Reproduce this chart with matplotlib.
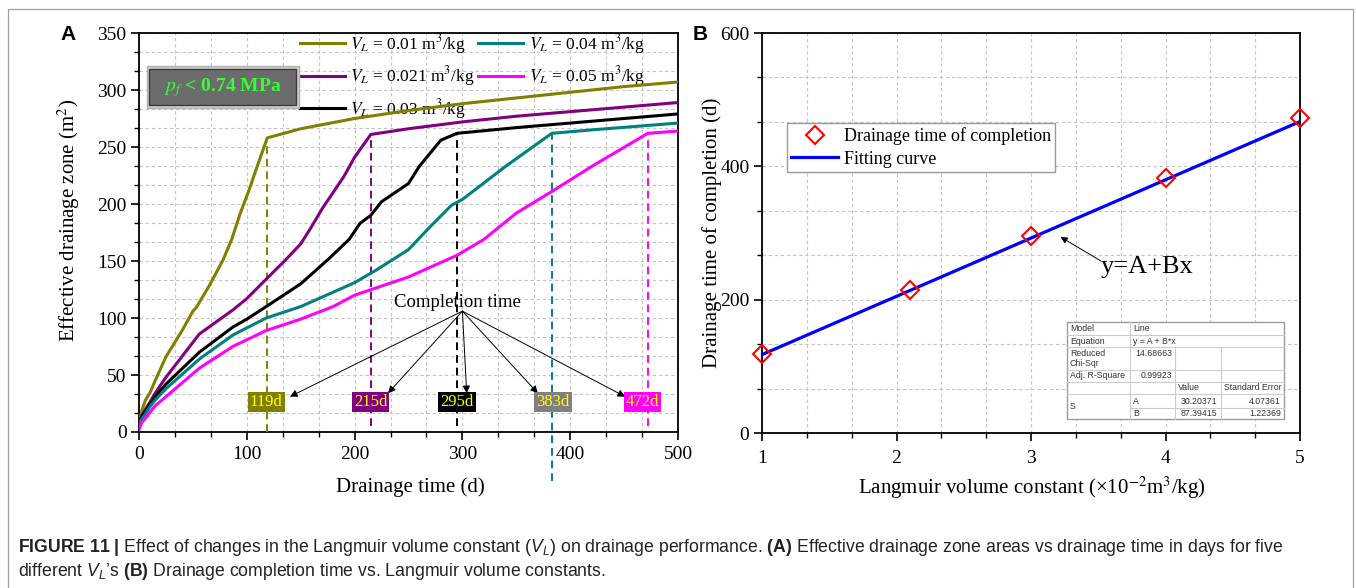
import numpy as np
import matplotlib
matplotlib.use('Agg')
import matplotlib.pyplot as plt
from matplotlib.ticker import MultipleLocator
from matplotlib.patches import Rectangle
from matplotlib.lines import Line2D
from matplotlib import font_manager as fm

# ---------------- data: panel A ----------------
x_001 = [0, 1, 3, 6, 10, 15, 25, 40, 50, 53, 65, 78, 86, 94, 102, 110, 119, 150, 200, 250, 300, 350, 400, 450, 500]
y_001 = [8, 12, 20, 28, 34, 45, 66, 89, 106, 109, 128, 151, 169, 192, 212, 234, 258, 266, 275, 282, 288, 293, 298, 303, 307]

x_0021 = [0, 1, 3, 6, 10, 15, 25, 56, 87, 100, 119, 135, 150, 160, 170, 180, 190, 200, 215, 250, 300, 350, 400, 450, 500]
y_0021 = [8, 11, 15, 20, 26, 34, 48, 86, 107, 117, 135, 150, 165, 180, 196, 210, 224, 241, 261, 266, 272, 277, 281, 285, 289]

x_003 = [0, 1, 3, 6, 10, 15, 25, 56, 87, 100, 118, 150, 175, 195, 205, 215, 225, 250, 260, 280, 295, 350, 400, 450, 500]
y_003 = [7, 10, 14, 18, 24, 31, 42, 70, 92, 99, 110, 130, 151, 169, 183, 190, 202, 218, 233, 256, 262, 267, 271, 275, 279]

x_004 = [0, 1, 3, 6, 10, 15, 25, 56, 87, 118, 150, 200, 220, 250, 270, 290, 300, 340, 383, 420, 460, 500]
y_004 = [5, 9, 12, 16, 22, 28, 38, 64, 85, 100, 110, 131, 142, 160, 180, 199, 204, 233, 262, 265, 268, 271]

x_005 = [0, 1, 3, 6, 10, 15, 25, 56, 87, 118, 150, 180, 200, 250, 295, 320, 350, 383, 420, 472, 500]
y_005 = [2, 5, 9, 12, 17, 23, 31, 56, 75, 89, 99, 110, 120, 136, 155, 169, 192, 211, 233, 262, 264]

vl_labels = ['0.01', '0.021', '0.03', '0.04', '0.05']
completion_days = [119, 215, 295, 383, 472]

# ---------------- data: panel B ----------------
langmuir_x = [1, 2.1, 3, 4, 5]
drain_days = [119, 215, 295, 383, 472]
fit_A = 30.20371
fit_B = 87.39415
fit_chi = '14.68663'
fit_r2 = '0.99923'
fit_A_err = '4.07361'
fit_B_err = '1.22369'

# ---------------- styling ----------------
line_colors = ['#808000', '#800080', '#000000', '#008080', '#ff00ff']
box_colors = ['#808000', '#800080', '#000000', '#808080', '#ff00ff']
box_x = [118, 215, 295, 384, 467]
dash_bottom = [0, 5, 5, -43, 5]
arrow_ends = [(140, 31), (231, 34), (304, 34), (370, 34), (451, 31)]

try:
    fm.findfont('Liberation Sans Narrow', fallback_to_default=False)
    cap_font = 'Liberation Sans Narrow'
except Exception:
    cap_font = 'Liberation Sans'

plt.rcParams['font.family'] = ['Liberation Serif', 'DejaVu Serif']
plt.rcParams['mathtext.fontset'] = 'stix'
plt.rcParams['mathtext.rm'] = cap_font
plt.rcParams['mathtext.it'] = cap_font + ':italic'
plt.rcParams['mathtext.bf'] = cap_font + ':bold'

W, H = 1356, 588
fig = plt.figure(figsize=(W / 100, H / 100), dpi=100)
fig.patch.set_facecolor('white')


def P(x, y):
    return (x / W, 1 - y / H)


axA = fig.add_axes([139 / W, 1 - 432 / H, 539 / W, 399 / H])
axB = fig.add_axes([762 / W, 1 - 433 / H, 538 / W, 400 / H])

grid_kw = dict(color='#c4c4c4', lw=0.8, ls=(0, (3, 2.5)))
for ax in (axA, axB):
    for s in ax.spines.values():
        s.set_linewidth(1.3)
    ax.tick_params(which='major', direction='out', length=6, width=1.2, labelsize=14, pad=3,
                   top=False, right=False)
    ax.tick_params(which='minor', direction='out', length=3.5, width=1.0, top=False, right=False)
    ax.grid(True, which='both', **grid_kw)
    ax.set_axisbelow(True)

# ---------------- panel A ----------------
series = [(x_001, y_001), (x_0021, y_0021), (x_003, y_003), (x_004, y_004), (x_005, y_005)]
for (xs, ys), c, lab in zip(series, line_colors, vl_labels):
    axA.plot(xs, ys, color=c, lw=2.2, zorder=4, label=rf'$V_L$ = {lab} m$^3$/kg')

for (xs, ys), c, d, yb in zip(series, line_colors, completion_days, dash_bottom):
    top = np.interp(d, xs, ys)
    axA.plot([d, d], [yb, top], color=c, lw=1.4, ls=(0, (4, 2.5)), zorder=3, clip_on=False)

axA.set_xlim(0, 500)
axA.set_ylim(0, 350)
axA.xaxis.set_major_locator(MultipleLocator(100))
axA.xaxis.set_minor_locator(MultipleLocator(100 / 3))
axA.yaxis.set_major_locator(MultipleLocator(50))
axA.yaxis.set_minor_locator(MultipleLocator(50 / 3))
axA.tick_params(axis='x', pad=4)

for d, bx, bc in zip(completion_days, box_x, box_colors):
    axA.text(bx, 26, f'{d}d', ha='center', va='center', color='#ffff00', fontsize=12, zorder=7,
             bbox=dict(boxstyle='square,pad=0.12', fc=bc, ec='none'))

for ex, ey in arrow_ends:
    axA.annotate('', xy=(ex, ey), xytext=(300, 106),
                 arrowprops=dict(arrowstyle='-|>', color='black', lw=0.7, mutation_scale=11,
                                 shrinkA=0, shrinkB=0), zorder=6)
axA.text(295, 114, 'Completion time', ha='center', va='center', fontsize=13.5, zorder=6)

axA.add_patch(Rectangle((7, 284), 141, 37, fc='#cfcfcf', ec='#b0b0b0', lw=1, zorder=5))
axA.add_patch(Rectangle((9.5, 286.5), 136, 32, fc='#6c6c6c', ec='#3c3c3c', lw=1, zorder=5))
axA.text(78, 302.5, r'$p_f$ < 0.74 MPa', color='#33ff33', fontsize=14, fontweight='bold',
         ha='center', va='center', zorder=6)

legA = axA.legend(ncol=2, loc='upper left', bbox_to_anchor=(0.292, 1.012), frameon=False, fontsize=12.5,
                  handlelength=2.6, handletextpad=0.3, columnspacing=0.2, labelspacing=0.5,
                  borderaxespad=0, borderpad=0.2)
legA.set_zorder(3)

fig.text(*P(69, 220), 'Effective drainage zone (m$^2$)', rotation=90, ha='center', va='center', fontsize=15)
fig.text(*P(410, 487), 'Drainage time (d)', ha='center', va='center', fontsize=15)

# ---------------- panel B ----------------
axB.plot(langmuir_x, drain_days, ls='none', marker='D', ms=9, mfc='none', mec='#ff0000', mew=1.5,
         clip_on=False, zorder=6, label='Drainage time of completion')
fit_x = np.array([langmuir_x[0], langmuir_x[-1]])
axB.plot(fit_x, fit_A + fit_B * fit_x, color='#0000ff', lw=2.3, zorder=5, label='Fitting curve')
axB.set_xlim(1, 5)
axB.set_ylim(0, 600)
axB.xaxis.set_major_locator(MultipleLocator(1))
axB.xaxis.set_minor_locator(MultipleLocator(1 / 3))
axB.yaxis.set_major_locator(MultipleLocator(200))
axB.yaxis.set_minor_locator(MultipleLocator(200 / 3))
axB.tick_params(axis='x', pad=6)

legB = axB.legend(loc='upper left', bbox_to_anchor=(0.046, 0.775), borderaxespad=0, fontsize=13,
                  frameon=True, fancybox=False, edgecolor='#999999', framealpha=1, handlelength=2.6,
                  handletextpad=0.3, borderpad=0.25, labelspacing=0.3)
legB.get_frame().set_linewidth(1.0)

axB.text(3.52, 249, 'y=A+Bx', fontsize=19, ha='left', va='center', zorder=6)
axB.annotate('', xy=(3.22, 294), xytext=(3.52, 258),
             arrowprops=dict(arrowstyle='-|>', color='black', lw=0.7, mutation_scale=10,
                             shrinkA=0, shrinkB=0), zorder=6)

fig.text(*P(712, 233), 'Drainage time of completion (d)', rotation=90, ha='center', va='center', fontsize=15)
fig.text(*P(1032, 488), 'Langmuir volume constant (×10$^{-2}$m$^3$/kg)', ha='center', va='center', fontsize=15)

# ---------------- fit table ----------------
tx0, tx1, tx2, tx3, tx4 = 1067, 1130, 1175, 1221, 1284
ty = [322, 335, 347, 370, 382, 394, 408, 419]
fig.add_artist(Rectangle(P(tx0, ty[-1]), (tx4 - tx0) / W, (ty[-1] - ty[0]) / H, transform=fig.transFigure,
                         fc='white', ec='#9a9a9a', lw=1.0, zorder=5))
lc = '#cccccc'
for yy in ty[1:6]:
    fig.add_artist(Line2D([tx0 / W, tx4 / W], [1 - yy / H] * 2, color=lc, lw=0.8, zorder=6))
fig.add_artist(Line2D([tx1 / W, tx4 / W], [1 - ty[6] / H] * 2, color=lc, lw=0.8, zorder=6))
fig.add_artist(Line2D([tx1 / W] * 2, [1 - ty[0] / H, 1 - ty[-1] / H], color=lc, lw=0.8, zorder=6))
for xx in (tx2, tx3):
    fig.add_artist(Line2D([xx / W] * 2, [1 - ty[2] / H, 1 - ty[-1] / H], color=lc, lw=0.8, zorder=6))

tab_kw = dict(fontsize=6.3, color='#333333', family='Liberation Sans', va='center', zorder=7)
cells = [
    (1070, 328.5, 'Model', 'left'), (1133, 328.5, 'Line', 'left'),
    (1070, 341, 'Equation', 'left'), (1133, 341, 'y = A + B*x', 'left'),
    (1070, 353, 'Reduced', 'left'), (1070, 363, 'Chi-Sqr', 'left'), (1172, 353, fit_chi, 'right'),
    (1070, 376, 'Adj. R-Square', 'left'), (1172, 376, fit_r2, 'right'),
    (1178, 388, 'Value', 'left'), (1224, 388, 'Standard Error', 'left'),
    (1070, 406.5, 'S', 'left'),
    (1133, 401, 'A', 'left'), (1217, 401, f'{fit_A:.5f}', 'right'), (1281, 401, fit_A_err, 'right'),
    (1133, 413.5, 'B', 'left'), (1217, 413.5, f'{fit_B:.5f}', 'right'), (1281, 413.5, fit_B_err, 'right'),
]
for x, y, s, ha in cells:
    fig.text(*P(x, y), s, ha=ha, **tab_kw)

# ---------------- panel letters, frame, caption ----------------
fig.text(*P(68, 35), 'A', fontsize=15, fontweight='bold', family='Liberation Sans', ha='center', va='center')
fig.text(*P(700, 35), 'B', fontsize=15, fontweight='bold', family='Liberation Sans', ha='center', va='center')

fig.add_artist(Line2D([8 / W, 8 / W, 1353 / W, 1353 / W], [0, 1 - 8.5 / H, 1 - 8.5 / H, 0],
                      color='#a0a0a0', lw=0.9, zorder=1))

line1 = (r'$\mathbf{FIGURE\ 11\ |}$ Effect of changes in the Langmuir volume constant ($V_L$) on drainage '
         r'performance. $\mathbf{(A)}$ Effective drainage zone areas vs drainage time in days for five')
line2 = r'different $V_L$’s $\mathbf{(B)}$ Drainage completion time vs. Langmuir volume constants.'
cap_kw = dict(family=[cap_font, 'DejaVu Sans'], math_fontfamily='custom', ha='left', va='center',
              color='#222222')
t1 = fig.text(*P(18, 548), line1, fontsize=12, **cap_kw)
fig.canvas.draw()
w1 = t1.get_window_extent().width
fs = 12 * 1260 / w1
t1.set_fontsize(fs)
fig.text(*P(18, 572), line2, fontsize=fs, **cap_kw)

fig.savefig('out.png', dpi=100)
